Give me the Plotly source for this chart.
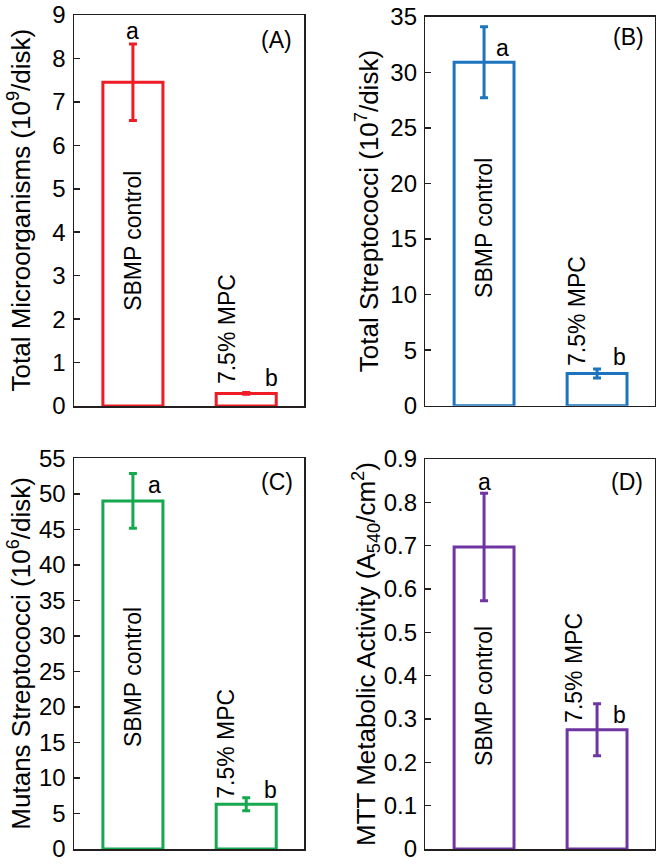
import plotly.graph_objects as go

# ---- data ----
groups = ["SBMP control", "7.5% MPC"]
micro_vals = [7.45, 0.29]
micro_err = [0.88, 0.02]
strep_vals = [30.9, 2.9]
strep_err = [3.2, 0.4]
mutans_vals = [49.0, 6.3]
mutans_err = [3.85, 0.9]
mtt_vals = [0.697, 0.275]
mtt_err = [0.124, 0.06]
sig_letters = ["a", "b"]

FONT = "Arial, Liberation Sans, sans-serif"
W, H = 664, 867

panels = [
    dict(vals=micro_vals, err=micro_err, color="#EE1C25", rng=[0, 9], dtick=1,
         title="Total Microorganisms (10<sup>9</sup>/disk)",
         xd=[74, 304], yd=[15, 406], tx=20, tag="(A)", tagpos=(276.7, 40),
         letters=[(0.0, 8.64), (1.22, 0.64)],
         lab=[(0.0, 3.8), (0.83, 1.77)]),
    dict(vals=strep_vals, err=strep_err, color="#1C74BF", rng=[0, 35], dtick=5,
         title="Total Streptococci (10<sup>7</sup>/disk)",
         xd=[425.3, 654.7], yd=[16.7, 405.7], tx=367, tag="(B)", tagpos=(628.7, 36.7),
         letters=[(0.16, 32.2), (1.2, 4.4)],
         lab=[(0.0, 16.0), (0.82, 8.5)]),
    dict(vals=mutans_vals, err=mutans_err, color="#16A84F", rng=[0, 55], dtick=5,
         title="Mutans Streptococci (10<sup>6</sup>/disk)",
         xd=[74, 304], yd=[458.3, 849], tx=20, tag="(C)", tagpos=(276.7, 481.7),
         letters=[(0.19, 51.3), (1.21, 8.3)],
         lab=[(0.0, 24.2), (0.82, 14.8)]),
    dict(vals=mtt_vals, err=mtt_err, color="#6F35A3", rng=[0, 0.9], dtick=0.1,
         title="MTT Metabolic Activity (A<sub>540</sub>/cm<sup>2</sup>)",
         xd=[425.3, 654.7], yd=[459, 849], tx=366, tag="(D)", tagpos=(627, 481.7),
         letters=[(0.0, 0.848), (1.2, 0.309)],
         lab=[(0.0, 0.353), (0.8, 0.419)]),
]


def px(x):
    return x / W


def py(y):
    return 1 - y / H


fig = go.Figure()
annotations = []
xpos = list(range(len(groups)))

for i, p in enumerate(panels, start=1):
    xa = "x" if i == 1 else f"x{i}"
    ya = "y" if i == 1 else f"y{i}"
    fig.add_trace(go.Bar(
        x=xpos, y=p["vals"], width=0.53, xaxis=xa, yaxis=ya,
        marker=dict(color="white", line=dict(color=p["color"], width=3)),
        error_y=dict(type="data", array=p["err"], visible=True,
                     color=p["color"], thickness=3, width=4),
        showlegend=False, hoverinfo="skip",
    ))
    xd = [px(p["xd"][0]), px(p["xd"][1])]
    yd = [py(p["yd"][1]), py(p["yd"][0])]
    axis_common = dict(showline=True, linecolor="#231F20", linewidth=1.5,
                       mirror=True, showgrid=False, zeroline=False,
                       automargin=False)
    fig.update_layout(**{
        ("xaxis" if i == 1 else f"xaxis{i}"): dict(
            domain=xd, range=[-0.52, 1.51], showticklabels=False, ticks="",
            anchor=ya, fixedrange=True, **axis_common),
        ("yaxis" if i == 1 else f"yaxis{i}"): dict(
            domain=yd, range=p["rng"], dtick=p["dtick"], tick0=0,
            ticks="inside", ticklen=6, tickwidth=1.5, tickcolor="#231F20",
            tickfont=dict(family=FONT, size=24, color="black"),
            ticklabelstandoff=2, ticklabeloverflow="allow",
            anchor=xa, **axis_common),
    })
    # axis title
    annotations.append(dict(
        text=p["title"], xref="paper", yref="paper",
        x=px(p["tx"]), y=(yd[0] + yd[1]) / 2, textangle=-90,
        showarrow=False, xanchor="center", yanchor="middle",
        font=dict(family=FONT, size=26, color="black")))
    # panel tag
    annotations.append(dict(
        text=p["tag"], xref="paper", yref="paper",
        x=px(p["tagpos"][0]), y=py(p["tagpos"][1]),
        showarrow=False, xanchor="center", yanchor="middle",
        font=dict(family=FONT, size=23, color="black")))
    # significance letters
    for (lx, ly), letter in zip(p["letters"], sig_letters):
        annotations.append(dict(
            text=letter, xref=xa, yref=ya, x=lx, y=ly, showarrow=False,
            xanchor="center", yanchor="middle",
            font=dict(family=FONT, size=23, color="black")))
    # group labels (rotated)
    for (gx, gy), g in zip(p["lab"], groups):
        annotations.append(dict(
            text=g, xref=xa, yref=ya, x=gx, y=gy, showarrow=False,
            textangle=-90, xanchor="center", yanchor="middle",
            font=dict(family=FONT, size=23, color="black")))

fig.update_layout(
    width=W, height=H, margin=dict(l=0, r=0, t=0, b=0, autoexpand=False),
    paper_bgcolor="white", plot_bgcolor="white",
    annotations=annotations, bargap=0, hovermode=False,
)

fig.write_html("out.html",
               config={"displayModeBar": False, "staticPlot": True},
               post_script="document.body.style.margin='0';"
                           "document.body.style.overflow='hidden';")
